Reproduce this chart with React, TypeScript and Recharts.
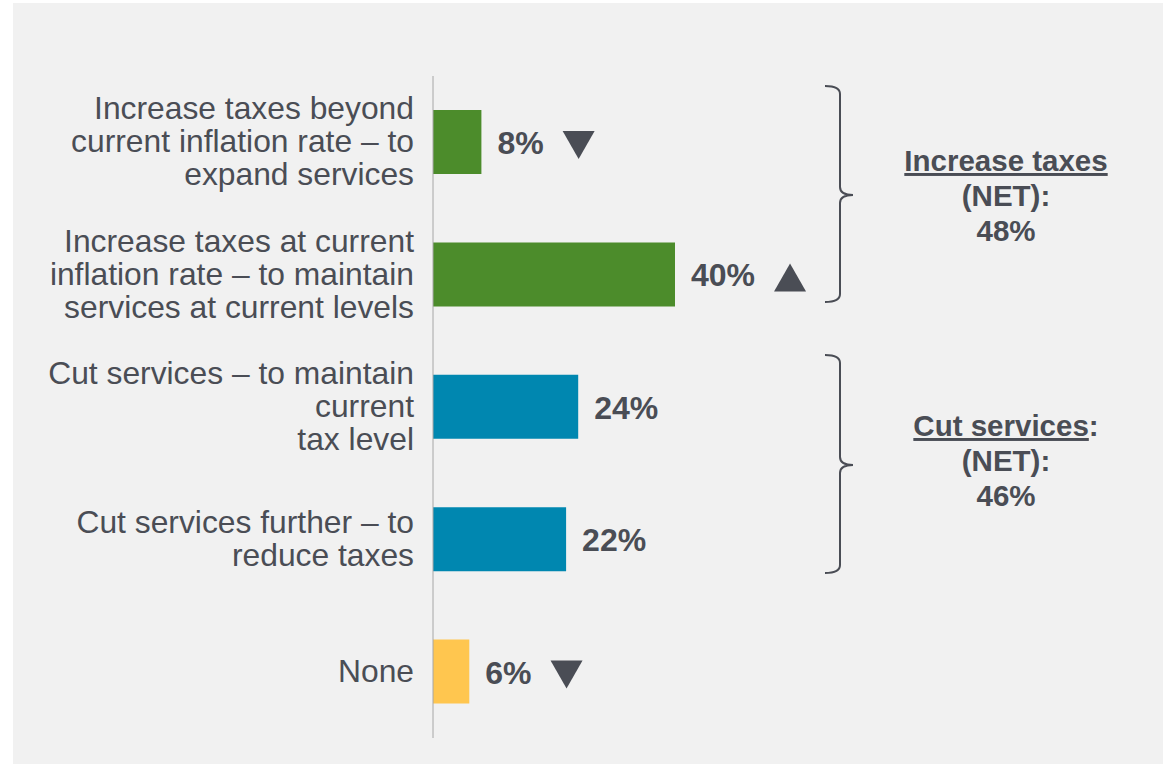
import { BarChart, Bar, XAxis, YAxis, Cell, LabelList } from 'recharts';

const categories = [
  'Increase taxes beyond\ncurrent inflation rate – to\nexpand services',
  'Increase taxes at current\ninflation rate – to maintain\nservices at current levels',
  'Cut services – to maintain\ncurrent\ntax level',
  'Cut services further – to\nreduce taxes',
  'None',
];
const values = [8, 40, 24, 22, 6];
const trends = ['down', 'up', '', '', 'down'];
const barColors = ['#4c8c2b', '#4c8c2b', '#0087b0', '#0087b0', '#ffc64f'];

const groupLabels = [
  { title: 'Increase taxes', suffix: '', lines: ['(NET):', '48%'] },
  { title: 'Cut services', suffix: ':', lines: ['(NET):', '46%'] },
];

const data = categories.map((name, i) => ({ name, value: values[i], trend: trends[i] }));

const TEXT = '#4a4d55';
const FONT = '"Liberation Sans", Arial, sans-serif';

function CategoryTick(props: any) {
  const { x, y, payload } = props;
  const lines: string[] = String(payload.value).split('\n');
  const lh = 33;
  const start = y - ((lines.length - 1) * lh) / 2 + 10;
  return (
    <text x={x - 11} y={start} textAnchor="end" fill={TEXT} fontSize={31.8} fontFamily={FONT}>
      {lines.map((l, i) => (
        <tspan key={i} x={x - 11} y={start + i * lh}>
          {l}
        </tspan>
      ))}
    </text>
  );
}

function ValueLabel(props: any) {
  const { x, y, width, height, value, index } = props;
  const tx = x + width + 16;
  const cy = y + height / 2;
  const txt = `${value}%`;
  const tw = (txt.length - 1) * 0.556 * 32 + 0.889 * 32;
  const trend = trends[index];
  const ax = tx + tw + 19;
  const ay = cy + 3;
  let tri = null;
  if (trend === 'down') {
    tri = <path d={`M${ax},${ay - 14} L${ax + 32},${ay - 14} L${ax + 16},${ay + 14} Z`} fill={TEXT} />;
  } else if (trend === 'up') {
    tri = <path d={`M${ax},${ay + 14} L${ax + 32},${ay + 14} L${ax + 16},${ay - 14} Z`} fill={TEXT} />;
  }
  return (
    <g>
      <text x={tx} y={cy + 12} fill={TEXT} fontSize={32} fontWeight="bold" fontFamily={FONT}>
        {txt}
      </text>
      {tri}
    </g>
  );
}

function Brace({ top, mid, bottom }: { top: number; mid: number; bottom: number }) {
  const x = 840;
  return (
    <path
      d={`M825,${top} Q840,${top} ${x},${top + 8} L${x},${mid - 8} Q${x},${mid} 853,${mid} Q${x},${mid} ${x},${mid + 8} L${x},${bottom - 8} Q${x},${bottom} 825,${bottom}`}
      fill="none"
      stroke={TEXT}
      strokeWidth={2}
    />
  );
}

export default function App() {
  return (
    <div style={{ position: 'absolute', left: 0, top: 0, width: 1163, height: 764, fontFamily: FONT }}>
      <div style={{ position: 'absolute', left: 13, top: 3, width: 1150, height: 761, background: '#f1f1f1' }} />
      <div style={{ position: 'absolute', left: 0, top: 0 }}>
        <BarChart
          width={1163}
          height={764}
          data={data}
          layout="vertical"
          margin={{ top: 76, right: 125, bottom: 26, left: 0 }}
        >
          <XAxis type="number" domain={[0, 100]} hide />
          <YAxis
            type="category"
            dataKey="name"
            width={433}
            axisLine={{ stroke: '#a6a6a6', strokeWidth: 1 }}
            tickLine={false}
            tick={<CategoryTick />}
            interval={0}
          />
          <Bar dataKey="value" barSize={64} isAnimationActive={false}>
            {data.map((d, i) => (
              <Cell key={i} fill={barColors[i]} />
            ))}
            <LabelList dataKey="value" content={<ValueLabel />} />
          </Bar>
        </BarChart>
      </div>
      <svg style={{ position: 'absolute', left: 0, top: 0 }} width={1163} height={764}>
        <Brace top={86} mid={195} bottom={302} />
        <Brace top={355} mid={465} bottom={573} />
        {groupLabels.map((g, i) => {
          const base = i === 0 ? 171 : 436;
          return (
            <text key={i} x={1006} textAnchor="middle" fill={TEXT} fontSize={29.5} fontWeight="bold" fontFamily={FONT}>
              <tspan x={1006} y={base}>
                <tspan style={{ textDecoration: 'underline' }}>{g.title}</tspan>
                {g.suffix}
              </tspan>
              {g.lines.map((l, j) => (
                <tspan key={j} x={1006} y={base + 35 * (j + 1)}>
                  {l}
                </tspan>
              ))}
            </text>
          );
        })}
      </svg>
    </div>
  );
}
